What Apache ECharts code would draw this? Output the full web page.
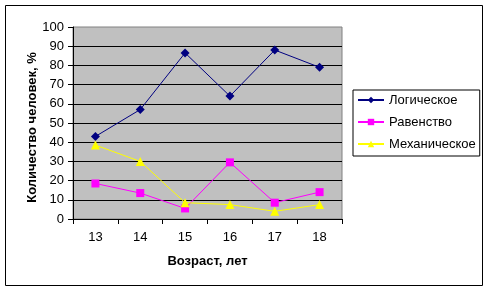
<!DOCTYPE html>
<html><head><meta charset="utf-8">
<script src="https://cdn.jsdelivr.net/npm/echarts@6/dist/echarts.min.js"></script>
<style>html,body{margin:0;padding:0;background:#fff}#c{width:490px;height:292px}</style>
</head><body><div id="c"></div>
<script>
const categories = ['13','14','15','16','17','18'];
const logical = [43, 57, 86.5, 64, 88, 79];
const equality = [18.5, 13.5, 5.5, 29.5, 8.5, 14];
const mechanical = [38.5, 30, 8.5, 7.5, 4, 7.5];
const seriesNames = ['Логическое', 'Равенство', 'Механическое'];
const xTitle = 'Возраст, лет';
const yTitle = 'Количество человек, %';

const font = 'Liberation Sans, Arial, sans-serif';
const chart = echarts.init(document.getElementById('c'), null, {renderer: 'canvas'});
chart.setOption({
  animation: false,
  backgroundColor: '#fff',
  graphic: [{
    type: 'rect', shape: {x: 5.5, y: 5.5, width: 477, height: 280},
    style: {fill: 'none', stroke: '#000', lineWidth: 1}, z: 0
  }, {
    type: 'text', x: 32, y: 127.5, rotation: Math.PI / 2,
    style: {text: yTitle, font: 'bold 13px ' + font, fill: '#000',
      align: 'center', verticalAlign: 'middle'}
  }],
  grid: {left: 73, top: 27, width: 269, height: 192, show: true,
    backgroundColor: '#C0C0C0', borderColor: '#808080', borderWidth: 1},
  legend: {
    orient: 'vertical', left: 353, top: 90,
    padding: [3, 4, 5, 4], itemGap: 8, itemWidth: 26, itemHeight: 8,
    borderColor: '#000', borderWidth: 1, backgroundColor: '#fff',
    textStyle: {fontFamily: font, fontSize: 13, lineHeight: 14, color: '#000'},
    data: seriesNames
  },
  xAxis: {
    type: 'category', data: categories, boundaryGap: true,
    name: xTitle, nameLocation: 'middle', nameGap: 36,
    nameTextStyle: {fontFamily: font, fontSize: 13, fontWeight: 'bold', color: '#000'},
    axisLine: {lineStyle: {color: '#000', width: 1}},
    axisTick: {show: true, length: 5, inside: false, lineStyle: {color: '#000'}},
    axisLabel: {fontFamily: font, fontSize: 13, color: '#000', margin: 12},
    splitLine: {show: false}
  },
  yAxis: {
    type: 'value', min: 0, max: 100, interval: 10,
    axisLine: {show: true, lineStyle: {color: '#000', width: 1}},
    axisTick: {show: true, length: 5, inside: false, lineStyle: {color: '#000'}},
    axisLabel: {fontFamily: font, fontSize: 13, color: '#000', margin: 9},
    splitLine: {show: true, showMaxLine: false, lineStyle: {color: '#000', width: 1}}
  },
  series: [
    {name: seriesNames[0], type: 'line', data: logical, symbol: 'diamond', symbolSize: 9,
      lineStyle: {color: '#000080', width: 1}, itemStyle: {color: '#000080'}},
    {name: seriesNames[1], type: 'line', data: equality, symbol: 'rect', symbolSize: 8,
      lineStyle: {color: '#FF00FF', width: 1}, itemStyle: {color: '#FF00FF'}},
    {name: seriesNames[2], type: 'line', data: mechanical, symbol: 'triangle', symbolSize: 9,
      lineStyle: {color: '#FFFF00', width: 1}, itemStyle: {color: '#FFFF00'}}
  ]
});
</script></body></html>
